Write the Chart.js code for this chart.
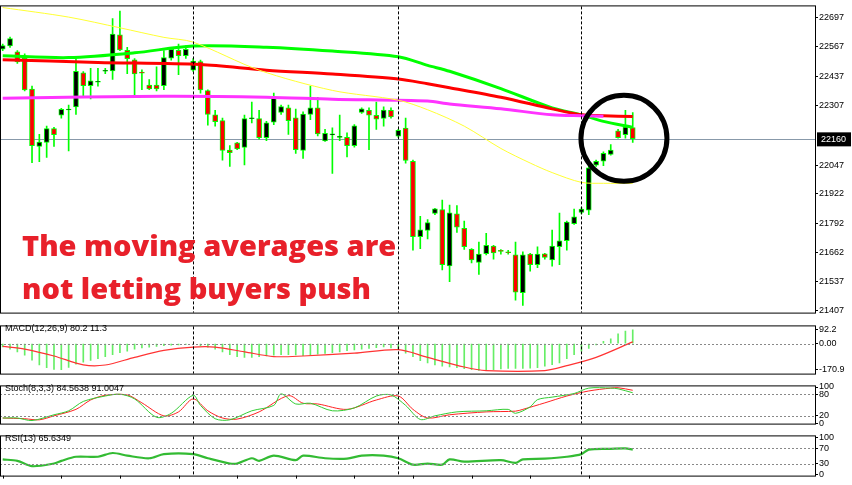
<!DOCTYPE html>
<html>
<head>
<meta charset="utf-8">
<script src="https://cdn.jsdelivr.net/npm/chart.js@4.4.0/dist/chart.umd.min.js"></script>
<style>
  body { margin: 0; background: #fff; width: 852px; height: 485px; overflow: hidden; position: relative; font-family: "Liberation Sans", sans-serif; }
  canvas { position: absolute; left: 0; }
  .lbl { position: absolute; left: 5px; font-size: 9px; color: #000; white-space: nowrap; }
  .note { position: absolute; left: 22px; font-family: "Open Sans", sans-serif; font-weight: 800; font-size: 29px; color: #e8202a; white-space: nowrap; line-height: 1; }
</style>
</head>
<body>
<canvas id="main" width="852" height="319" style="top:0"></canvas>
<canvas id="macd" width="852" height="60" style="top:320px"></canvas>
<canvas id="stoch" width="852" height="50" style="top:380px"></canvas>
<canvas id="rsi" width="852" height="52" style="top:430px"></canvas>
<div class="note" style="top:230px">The moving averages are</div>
<div class="note" style="top:273px">not letting buyers push</div>
<div class="lbl" style="top:323px">MACD(12,26,9) 80.2 11.3</div>
<div class="lbl" style="top:383px">Stoch(8,3,3) 84.5638 91.0047</div>
<div class="lbl" style="top:433px">RSI(13) 65.6349</div>
<script>
// candles (index = bar number)
const opens  = [22557,22571,22543,22515,22380,22130,22147,22206,22267,22290,22303,22451,22397,22412,22460,22462,22618,22550,22508,22454,22397,22397,22397,22518,22550,22529,22465,22501,22373,22267,22242,22112,22144,22126,22252,22250,22168,22236,22279,22298,22253,22112,22270,22298,22154,22181,22170,22168,22133,22279,22287,22264,22253,22287,22175,22208,22062,21733,21761,21836,21850,21605,21832,21768,21676,21620,21659,21690,21671,21665,21652,21487,21655,21610,21656,21631,21690,21716,21791,21840,21850,22048,22065,22095,22196,22182,22211];
const highs  = [22578,22609,22550,22536,22394,22182,22218,22213,22296,22310,22515,22458,22472,22472,22472,22691,22723,22564,22515,22465,22423,22479,22550,22564,22578,22571,22515,22508,22378,22288,22253,22133,22147,22267,22324,22288,22239,22363,22310,22310,22293,22281,22394,22345,22204,22211,22267,22189,22225,22298,22298,22324,22303,22298,22204,22253,22069,21822,21808,21857,21893,21871,21869,21801,21680,21709,21747,21695,21676,21673,21709,21666,21659,21688,21659,21761,21836,21801,21854,21860,22048,22069,22105,22137,22204,22288,22278];
const lows   = [22550,22564,22493,22373,22058,22062,22081,22129,22253,22109,22270,22345,22338,22394,22448,22423,22550,22448,22352,22378,22378,22373,22378,22508,22444,22515,22458,22363,22222,22218,22069,22041,22115,22048,22232,22161,22154,22225,22270,22182,22098,22076,22246,22175,22151,22010,22154,22083,22126,22274,22115,22204,22218,22253,22168,22055,21673,21680,21723,21829,21586,21535,21751,21676,21617,21567,21652,21634,21656,21656,21454,21430,21581,21596,21634,21603,21610,21673,21786,21832,21829,22041,22044,22090,22165,22165,22147];
const closes = [22571,22602,22501,22378,22133,22147,22206,22182,22291,22292,22458,22397,22416,22414,22462,22621,22554,22515,22448,22452,22383,22383,22518,22554,22529,22554,22503,22378,22270,22239,22112,22103,22119,22250,22254,22168,22232,22345,22303,22243,22116,22270,22298,22185,22185,22183,22172,22133,22218,22293,22267,22250,22288,22260,22199,22069,21733,21762,21793,21854,21610,21836,21775,21690,21631,21655,21694,21662,21669,21663,21490,21652,21610,21655,21642,21690,21713,21796,21819,21853,22034,22062,22098,22112,22168,22213,22164];

// moving averages: bar index + value
const maGreenIdx = [0,9,18,26,36,45,54,58,61,68,75,79,82,86];
const maGreen    = [22527,22519,22540,22570,22565,22548,22523,22485,22459,22383,22298,22268,22239,22213];
const maRedIdx   = [0,13,27,36,45,54,58,61,68,75,79,82,86];
const maRed      = [22510,22498,22489,22464,22447,22425,22404,22387,22345,22294,22268,22264,22260];
const maPinkIdx  = [0,22,36,45,58,61,68,75,79,82];
const maPink     = [22341,22349,22345,22336,22328,22315,22294,22268,22264,22262];
const maYellowIdx = [0,9,16,22,26,35,45,54,58,63,68,72,75,79,82,86];
const maYellow    = [22739,22697,22650,22608,22587,22464,22375,22332,22290,22218,22120,22056,22014,21971,21967,21967];

const priceTicks = [22697,22567,22437,22307,22047,21922,21792,21662,21537,21407];
const lastPrice = 22160;
const sessionLines = [26, 54, 79];

// MACD
const macdHist = [-22,-36,-54,-76,-108,-139,-158,-169,-171,-155,-135,-122,-110,-99,-86,-72,-59,-50,-36,-29,-23,-18,-14,-11,-9,-5,-7,-14,-23,-36,-54,-72,-85,-90,-90,-86,-81,-76,-72,-72,-74,-79,-76,-70,-65,-59,-54,-47,-41,-36,-31,-27,-22,-29,-40,-63,-86,-112,-126,-139,-148,-153,-158,-164,-171,-176,-175,-171,-166,-162,-162,-162,-160,-158,-148,-137,-126,-99,-72,-50,-32,-9,14,31,63,81,90];
const macdSigIdx = [0,3,7,11,14,18,22,26,29,33,37,41,48,54,58,63,66,74,77,81,86];
const macdSig    = [-18,-36,-81,-139,-140,-90,-45,-23,-23,-54,-85,-81,-63,-40,-90,-153,-176,-176,-144,-90,11];
const macdTicks = [92.2, 0, -170.9];

// Stochastic
const stochKIdx = [0,2,4,7,9,11,14,16,18,21,23,26,27,29,31,34,37,38,40,42,45,48,51,53,55,57,59,62,66,69,70,72,73,75,78,80,83,84,86];
const stochK    = [14,14,7,23,34,60,75,80,67,16,27,77,49,12,9,34,49,81,53,55,34,42,75,78,49,10,20,31,34,38,27,45,65,72,82,97,97,95,84];
const stochDIdx = [0,3,5,7,10,12,14,17,19,22,24,26,28,30,32,35,39,41,43,47,51,54,56,58,61,66,70,71,74,77,80,83,84,86];
const stochD    = [14,12,9,20,38,64,77,78,56,20,31,67,34,14,11,31,76,55,53,38,64,75,38,14,23,31,33,38,56,75,89,97,98,91];
const stochTicks = [100, 80, 20, 0];

// RSI
const rsiIdx = [0,2,4,7,8,10,13,15,17,20,22,26,28,31,32,34,35,37,40,41,44,47,49,52,54,56,58,60,61,63,68,70,71,74,77,79,80,83,85,86];
const rsiVals = [41,37,23,30,37,48,48,58,51,44,55,55,44,30,30,44,37,51,39,51,44,43,51,51,44,27,30,27,41,35,39,32,41,43,48,55,67,69,70,67];
const rsiTicks = [100, 70, 30, 0];

const GREEN = '#00ff00';
const X_MIN = -0.37, X_MAX = 110.88;
const xScale = { type: 'linear', min: X_MIN, max: X_MAX, display: false, offset: false };

function yAxis(min, max, ticks, fmt) {
  return {
    position: 'right', min: min, max: max,
    afterFit: s => { s.width = 37; },
    afterBuildTicks: s => { s.ticks = ticks.map(v => ({ value: v })); },
    border: { color: '#000' },
    grid: { drawOnChartArea: false, tickLength: 3, color: '#000' },
    ticks: { color: '#000', padding: 1, autoSkip: false, font: { family: 'Liberation Sans', size: 9 }, callback: fmt || (v => String(v)) }
  };
}

// frame, vertical separators, dotted levels
function panelPlugin(levels, opts) {
  opts = opts || {};
  return {
    id: 'panel',
    afterDatasetsDraw(chart) {
      const { ctx, chartArea: a, scales: { x, y } } = chart;
      ctx.save();
      ctx.strokeStyle = '#888';
      ctx.lineWidth = 1;
      ctx.setLineDash([2, 2]);
      levels.forEach(v => {
        const py = Math.round(y.getPixelForValue(v)) + 0.5;
        ctx.beginPath(); ctx.moveTo(a.left, py); ctx.lineTo(a.right, py); ctx.stroke();
      });
      ctx.strokeStyle = '#000';
      ctx.setLineDash([3, 2]);
      sessionLines.forEach(i => {
        const px = Math.round(x.getPixelForValue(i)) + 0.5;
        ctx.beginPath(); ctx.moveTo(px, a.top); ctx.lineTo(px, a.bottom); ctx.stroke();
      });
      ctx.setLineDash([]);
      ctx.strokeRect(a.left + 0.5, a.top - 0.5, a.right - a.left, a.bottom - a.top + 1);
      if (opts.bottomTicks) {
        for (let i = 0; i < 87; i += 8) {
          const px = Math.round(x.getPixelForValue(i)) + 0.5;
          ctx.beginPath(); ctx.moveTo(px, a.bottom); ctx.lineTo(px, a.bottom + 3); ctx.stroke();
        }
      }
      if (opts.extra) opts.extra(chart);
      ctx.restore();
    }
  };
}

const idx = opens.map((_, i) => i);
const common = {
  responsive: false, animation: false,
  layout: { padding: { top: 1, bottom: 1, left: 0, right: 0 } },
  plugins: { legend: { display: false }, tooltip: { enabled: false } },
  events: []
};

const pts = (xs, ys) => xs.map((v, i) => ({ x: v, y: ys[i] }));
const line = (data, color, w) => ({ type: 'line', data: data, borderColor: color, borderWidth: w, pointRadius: 0, tension: 0.3, fill: false });

// main price chart
new Chart(document.getElementById('main'), {
  type: 'bar',
  data: {
    datasets: [
      { data: idx.map(i => ({ x: i, y: [lows[i], highs[i]] })), backgroundColor: GREEN, barThickness: 1, grouped: false, order: 2 },
      { data: idx.map(i => ({ x: i, y: [Math.min(opens[i], closes[i]) - 1, Math.max(opens[i], closes[i]) + 1] })),
        backgroundColor: idx.map(i => closes[i] >= opens[i] ? '#000' : '#ff0000'),
        borderColor: GREEN, borderWidth: 1, borderSkipped: false, barThickness: 5, grouped: false, order: 1 },
      Object.assign(line(pts(maYellowIdx, maYellow), '#ffff33', 1), { order: 0 }),
      Object.assign(line(pts(maPinkIdx, maPink), '#ff33ff', 3), { order: 0 }),
      Object.assign(line(pts(maRedIdx, maRed), '#ff0000', 3), { order: 0 }),
      Object.assign(line(pts(maGreenIdx, maGreen), GREEN, 3), { order: 0 })
    ]
  },
  options: Object.assign({}, common, {
    scales: { x: xScale, y: yAxis(21399, 22744, priceTicks) }
  }),
  plugins: [
    {
      id: 'lastPriceLine',
      beforeDatasetsDraw(chart) {
        const { ctx, chartArea: a, scales: { y } } = chart;
        const py = Math.round(y.getPixelForValue(lastPrice)) + 0.5;
        ctx.save(); ctx.strokeStyle = '#8899aa'; ctx.lineWidth = 1;
        ctx.beginPath(); ctx.moveTo(a.left, py); ctx.lineTo(a.right, py); ctx.stroke(); ctx.restore();
      }
    },
    panelPlugin([], {
      extra(chart) {
        const { ctx, chartArea: a, scales: { x, y } } = chart;
        const py = y.getPixelForValue(lastPrice);
        ctx.fillStyle = '#000';
        ctx.fillRect(a.right + 2, py - 7, 34, 14);
        ctx.fillStyle = '#fff';
        ctx.font = '9px "Liberation Sans"';
        ctx.textBaseline = 'middle';
        ctx.fillText(String(lastPrice), a.right + 6, py + 0.5);
        ctx.strokeStyle = '#000';
        ctx.lineWidth = 5;
        ctx.beginPath();
        ctx.arc(x.getPixelForValue(84.8), py - 1, 43, 0, Math.PI * 2);
        ctx.stroke();
      }
    })
  ]
});

// MACD
new Chart(document.getElementById('macd'), {
  type: 'bar',
  data: {
    datasets: [
      { data: idx.map(i => ({ x: i, y: macdHist[i] })), backgroundColor: '#66ee66', barThickness: 1, grouped: false, order: 1 },
      Object.assign(line(pts(macdSigIdx, macdSig), '#ff3333', 1.2), { order: 0 })
    ]
  },
  options: Object.assign({}, common, {
    scales: { x: xScale, y: yAxis(-196, 112, macdTicks, v => v === 0 ? '0.00' : String(v)) }
  }),
  plugins: [panelPlugin([0])]
});

// Stochastic
new Chart(document.getElementById('stoch'), {
  type: 'line',
  data: {
    datasets: [
      line(pts(stochKIdx, stochK), '#33cc33', 1),
      line(pts(stochDIdx, stochD), '#ff2222', 1)
    ]
  },
  options: Object.assign({}, common, {
    scales: { x: xScale, y: yAxis(-1.5, 101.7, stochTicks) }
  }),
  plugins: [panelPlugin([80, 20])]
});

// RSI
new Chart(document.getElementById('rsi'), {
  type: 'line',
  data: {
    datasets: [ line(pts(rsiIdx, rsiVals), '#33bb33', 2.2) ]
  },
  options: Object.assign({}, common, {
    layout: { padding: { top: 1, bottom: 4, left: 0, right: 0 } },
    scales: { x: xScale, y: yAxis(-2, 102, rsiTicks) }
  }),
  plugins: [panelPlugin([70, 30], { bottomTicks: true })]
});
</script>
</body>
</html>
